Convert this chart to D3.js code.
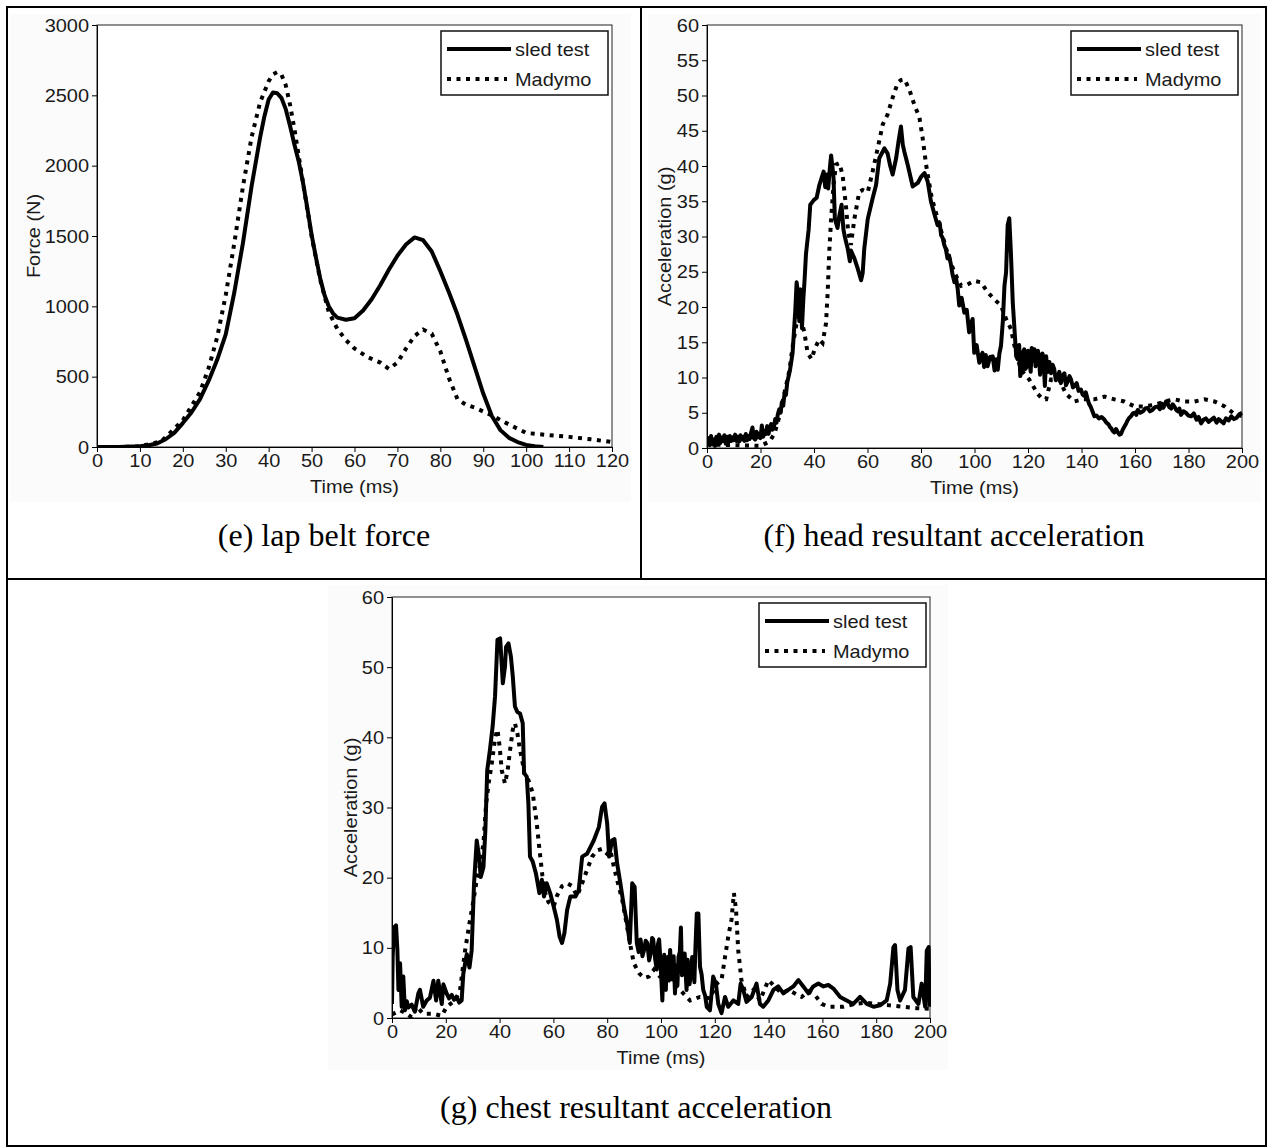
<!DOCTYPE html>
<html>
<head>
<meta charset="utf-8">
<script src="https://cdn.jsdelivr.net/npm/d3@7"></script>
<style>
  html, body { margin: 0; padding: 0; background: #fff; }
  svg { display: block; }
</style>
</head>
<body>
<svg id="fig" width="1270" height="1148"></svg>
<script>
// ---------- data ----------
const seriesNames = ["sled test", "Madymo"];

// (e) lap belt force: [time ms, force N]
const lapSled = [[0,0],[5,0],[10,5],[12,12],[14,25],[16,55],[18,100],[20,170],[22,245],[24,340],
  [26,470],[28,620],[30,800],[32,1100],[34,1450],[36,1850],[38,2200],[39,2350],[40,2470],[41,2520],
  [42,2515],[43,2480],[44,2400],[45,2280],[46,2150],[47,2030],[48,1880],[49,1700],[50,1510],[51,1350],
  [52,1200],[53,1080],[54,1000],[55,950],[56,920],[58,905],[60,915],[62,970],[64,1050],[66,1150],
  [68,1260],[70,1360],[72,1440],[74,1490],[76,1470],[78,1390],[80,1250],[82,1100],[84,940],[86,760],
  [88,570],[90,380],[92,220],[94,120],[96,65],[98,35],[100,15],[102,5],[104,0]];
const lapMadymo = [[0,0],[5,0],[10,5],[15,40],[20,190],[24,390],[26,560],[28,780],[30,1080],[32,1450],
  [34,1850],[36,2200],[38,2450],[40,2600],[41,2650],[42,2665],[43,2645],[44,2570],[45,2430],[46,2260],
  [47,2070],[48,1880],[50,1500],[52,1190],[54,960],[56,840],[58,760],[60,700],[63,640],[66,600],
  [68,555],[70,600],[72,700],[74,790],[76,835],[78,805],[80,680],[82,490],[84,340],[86,300],
  [88,280],[92,225],[96,160],[100,100],[105,85],[110,72],[115,55],[120,35]];

// (f) head resultant acceleration: [time ms, acceleration g]
const headSled = [[0,0.6],[0.5,1.4],[1,0.4],[1.5,1.7],[2,0.5],[2.5,1.2],[3,0.3],[3.5,1.6],[4,0.8],[4.5,1.9],
  [5,0.7],[5.5,1.5],[6,1.0],[6.5,1.8],[7,0.6],[7.5,1.6],[8,0.9],[8.5,1.7],[9,1.0],[9.5,1.5],
  [10,1.1],[10.5,1.9],[11,1.0],[11.5,1.6],[12,0.9],[12.5,1.8],[13,1.2],[13.5,1.6],[14,1.0],[14.5,2.0],
  [15,1.1],[15.5,1.7],[16,1.3],[16.5,2.2],[17,2.9],[17.5,1.4],[18,1.2],[18.5,2.3],[19,1.5],[19.5,2.0],
  [20,1.4],[20.5,3.2],[21,1.6],[21.5,2.4],[22,2.0],[22.5,3.1],[23,2.0],[23.5,2.9],[24,3.4],[24.5,2.6],
  [25,3.0],[25.5,4.1],[26,3.6],[26.5,4.8],[27,5.5],[27.5,5.0],[28,6.5],[28.5,6.0],[29,7.8],[29.5,7.5],
  [30,9.3],[31,11.0],[32,13.5],[33,19.5],[33.5,23.5],[34,22],[34.5,18],[35,22.5],[35.5,17],
  [36,21],[36.5,24],[37,27.5],[38,31],[38.6,34.5],[40,35.2],[41,35.5],[42,37.3],[43,38.5],[43.6,39.2],
  [44.2,37],[44.8,38.8],[45.3,36.8],[46,40],[46.4,41.5],[47,39.5],[47.3,38.3],[47.8,32.5],[48.8,31.2],[49.5,33],
  [50.3,34.5],[51,31],[51.5,30],[52.6,28.3],[53.4,26.5],[53.8,28],[55.1,26.9],[56.3,25.5],[57.6,23.8],[58.2,24.8],
  [58.8,28.3],[60.1,32.5],[61.9,35.4],[63.2,37.3],[64.4,41.1],[66.3,42.5],[67.5,41.8],[68.5,40],[69.4,38.8],[70.7,41.1],
  [71.6,43.5],[72.5,45.6],[73.2,43],[73.8,42],[75,40.2],[76.9,37.1],[78.8,37.6],[80.1,38.5],[81.3,39],[82.5,37.8],
  [83.7,35],[85,33.2],[86.2,31.6],[87,31.9],[87.5,30.2],[88.1,29.8],[88.7,28.8],[89.3,28.2],[89.9,26.9],[90.5,27.3],
  [91.2,26],[91.8,24.6],[92.5,23.5],[93.1,24.1],[93.7,22.6],[94.3,20.2],[95.2,21.3],
  [96.2,19.2],[97.1,19.6],[98.0,16.4],[98.6,17.5],[99.3,18.3],[99.9,13.5],[100.8,14.6],[101.8,12.1],[102.4,13],[103.0,13.5],
  [103.6,11.5],[104.2,13.2],[104.9,11.6],[105.8,12.9],[106.8,13.0],[107.5,11.0],[108.1,12.6],[108.7,11.1],[109.3,13.4],[109.9,14.5],
  [110.6,18],[111.2,23],[111.8,24.9],[112.4,31.6],[113.0,32.6],[113.6,27.8],[114.3,20.7],[115.1,15.9],[115.6,13],[116.1,12.6],
  [116.7,14.6],[117.1,10.2],[117.4,10.6],[118.0,13.5],[118.6,14.0],[119.0,11.2],[119.5,11.5],[120.0,13.8],[120.5,12.6],[121.0,10.8],
  [121.4,14.2],[121.9,12.4],[122.4,14.0],[122.8,11.6],[123.2,12],[123.7,13.8],[124.1,13],[124.5,10.4],[124.9,11.6],[125.4,13.4],
  [125.8,12.8],[126.3,8.8],[126.8,13.0],[127.1,11.4],[127.5,10.8],[128.0,12.2],[128.6,10.6],[129.2,11.8],[129.8,11.2],[130.4,9.6],
  [131.1,10.1],[131.7,10.8],[132.3,9.2],[133.0,10.3],[133.6,10.6],[134.2,8.9],[134.8,9.4],[135.5,10.2],[136.1,9.7],[136.8,8.6],
  [137.5,8.8],[138.2,9.2],[138.9,8.1],[139.8,8.3],[140.4,7.6],[141,7.4],[141.6,7.9],[142.3,6.9],[142.9,6.2],[143.5,5.8],
  [144.2,5.1],[144.8,4.5],[145.6,4.6],[146.5,4.2],[147.5,4.4],[148.6,4.0],[149.3,3.6],[150,3.4],[150.6,3.0],
  [151.1,2.8],[151.7,2.4],[152.3,2.2],[152.9,2.7],[153.5,2.3],[154.2,1.9],[154.8,2.0],[155.4,2.6],[156.0,3.0],[156.6,3.4],
  [157.2,3.9],[157.9,4.3],[158.5,4.5],[159.2,4.9],[160,5.0],[160.5,4.7],[161.0,5.4],[162,5.0],[163,5.2],[163.8,5.6],
  [164.7,5.7],[165.6,5.2],[166.5,5.4],[167.5,5.8],[168.5,5.9],[169.3,5.5],[170,6.3],[170.5,5.7],[171,6.0],[171.6,6.6],
  [172.2,6.4],[172.8,5.8],[173.5,5.6],[174.1,6.2],[174.7,5.9],[175.4,5.4],[176,5.2],[176.6,5.6],[177.2,4.7],[178.1,5.2],
  [179,5.0],[180,4.6],[181.0,4.5],[182,4.9],[183,4.0],[183.8,4.4],[184.7,3.5],[185.6,4.0],[186.5,4.2],[187.5,3.7],
  [188.5,4.0],[189.5,4.3],[190.5,3.6],[191.3,4.1],[192.2,3.8],[193.1,3.5],[194,4.2],[195,3.9],[196.0,4.5],[197,4.1],
  [198,4.3],[199,4.8],[200,5.0]];
const headMadymo = [[0,0.5],[10,0.4],[20,0.3],[23.3,0.9],[25.2,2.0],[27.0,4.4],[28.9,7.7],[30.8,11.0],[32.0,14.4],[33.3,17.3],
  [34.5,19.0],[35.5,17.8],[36.4,16.4],[37.6,13.5],[39.1,12.6],[40.4,14.2],[42.0,15.4],[43.2,14.9],[44.5,17.7],[45.1,22.0],
  [45.7,27.8],[46.4,32.5],[47.3,37.3],[48.2,40.2],[49.5,40.4],[50.7,38.7],[51.9,34.5],[52.8,30.6],[53.8,28.8],[55.1,32.5],
  [56.9,36.3],[58.2,36.6],[60.1,36.3],[61.9,39.2],[63.8,42.5],[65.7,45.9],[67.5,47.3],[69.4,49.7],[71.3,51.8],[72.5,52.2],
  [73.8,52.3],[75.6,50.9],[77.5,48.7],[79.4,46.9],[80.6,44.0],[81.9,40.2],[82.5,38.8],[84,35.5],[87,31.5],[90,27.5],
  [92.5,24.9],[95,23.0],[97.4,23.2],[99.9,23.7],[102.4,23.5],[104.9,22.1],[107.4,21.1],[109.9,20.2],[111.8,18.3],[113.6,16.9],
  [115.5,13.5],[117.4,11.1],[120.5,9.7],[123.6,7.7],[125.5,6.9],[126.8,6.9],[128.6,9.7],[131.7,9.7],[134.2,7.7],[137.3,6.6],
  [140.4,6.9],[144.8,6.9],[148.6,7.3],[152.3,6.9],[156.0,6.6],[159.8,5.9],[163.5,5.9],[167.2,6.1],[171.0,6.6],[174.7,6.9],
  [178.5,6.6],[182.2,6.6],[186.0,6.9],[189.7,6.6],[193.5,5.9],[196.6,5.0],[200,4.5]];

// (g) chest resultant acceleration: [time ms, acceleration g]
const chestSled = [[0,2],[0.25,8.7],[0.74,12.9],[1.5,13.2],[2.0,9.7],[2.4,4.0],[3.0,7.8],[3.6,1.6],[4.2,5.9],[4.8,1.1],
  [5.5,2.4],[6.1,1.5],[7.3,1.9],[8.5,0.9],[9.8,3.5],[10.4,4.0],[11.6,1.6],[12.9,2.5],[14.1,2.9],[15.4,5.3],
  [16.4,2.5],[17.2,5.3],[18.5,2.0],[19.1,4.8],[20.3,3.5],[21.2,2.8],[22.2,3.3],[23.1,2.6],[24.0,3.0],[25.0,2.2],[25.9,2.5],[26.5,6.3],[27.8,9.1],
  [28.8,7.2],[29.6,9.6],[30.5,19.2],[31.5,25.3],[32.4,22.9],[33.0,20.1],[34.0,21.5],[34.7,26.7],[35.4,35.3],[36.4,38.2],
  [37.4,41.5],[38.3,45.8],[39.2,53.9],[40.2,54.1],[41.2,47.7],[42.0,50.1],[42.4,52.9],[43.3,53.4],[44.2,51.5],[44.9,48.7],
  [45.7,44.4],[46.6,43.6],[47.6,43.4],[48.6,42],[49.1,34.9],[50.1,34.4],[50.7,30.6],[51.3,23],[52.3,22.3],[53.5,20.6],
  [54.8,17.8],[55.7,19.7],[56.5,17.3],[57.5,19.2],[58.8,17.8],[60.1,15.9],[61.3,14],[62.3,11.6],[63.2,10.7],[64.1,12.1],
  [65.1,15.4],[66.3,17.3],[68.2,17.3],[69.4,18.2],[70.7,23],[72.5,23.4],[75.0,25.3],[76.9,27.2],[78.1,30.1],[79.0,30.6],
  [80.0,27.7],[80.7,23],[81.8,25.3],[82.7,25.5],[83.7,22],[84.9,19.2],[86.2,15.9],[87.4,13.5],[88.4,10.7],[89.3,19.2],
  [90.2,18.7],[91.0,10.7],[91.7,9.4],[92.4,11.2],[93.1,8.8],[93.7,9.7],[94.3,11.0],[94.9,10.7],[95.6,8.2],[96.2,9.3],[96.7,11.4],[97.1,11.2],
  [97.8,8.5],[98.4,6.9],[98.9,10.6],[99.3,11.2],[99.9,7.4],[100.5,2.5],
  [100.9,7.8],[101.2,9.0],[101.5,5.2],[101.8,4.0],[102.1,8.1],[102.5,8.7],[102.9,5.6],[103.4,9.7],[103.8,6.3],[104.2,5.5],[104.7,8.8],[105.2,3.5],
  [105.5,6.2],[105.8,7.5],[106.1,4.6],[106.5,8.7],[107.0,9.4],[107.4,12.9],[107.8,6.1],[108.3,7.3],[108.8,9.2],
  [109.5,4],[109.9,8.3],[110.2,7.0],[110.6,4.8],[111.1,6.3],[111.6,8.7],[112.0,7.3],[112.4,5.1],[112.8,10],[113.3,14.9],[113.9,14.9],[114.5,7.3],[115.1,6.2],[115.7,4.0],[116.4,3.2],[117.0,1.6],
  [118.2,1.1],[119.4,5.9],[120.4,4.9],[121.3,2.0],[122.5,0.7],[123.8,3.0],[125.0,1.6],[126.9,2.5],[128.7,2.0],[129.6,4.9],
  [130.6,4.0],[131.8,2.3],[133.7,3.0],[135.5,4.9],[136.8,2.0],[138.0,1.6],[139.9,2.5],[141.8,4.0],[143.6,4.5],[145.5,3.5],
  [147.3,4.0],[149.2,4.5],[151.1,5.4],[152.9,4.5],[154.8,3.5],[156.6,4.5],[158.5,4.9],[160.4,4.5],[162.2,4.7],[164.1,4.2],
  [166.6,3.0],[169.0,2.5],[171.5,2.0],[174.0,3.0],[176.5,2.0],[179.0,1.6],[181.4,1.8],[183.9,2.5],[185.2,4.9],[186.4,10.1],
  [187.0,10.4],[187.9,4.0],[188.9,2.5],[190.7,4],[192.0,9.9],[192.8,10.1],[193.8,3.0],[195.7,2.0],[196.9,4.9],[198.2,1.6],
  [198.8,9.6],[199.5,10.1],[199.8,1.6]];
const chestMadymo = [[0,0.5],[3,1.1],[5.5,0.6],[7.3,0.1],[9.2,1.6],[11.6,0.6],[15.4,0.6],[18.5,0.3],[20.3,1.6],[23.4,2.5],
  [25.3,4.0],[27.2,9.7],[28.8,13.5],[30.3,16.8],[31.5,19.7],[32.8,22],[34.0,24.9],[35.0,30.6],[35.9,33.4],[37.1,36.3],
  [38.4,40.1],[39.2,41.1],[40.0,38.7],[40.8,35.3],[42.0,33.4],[43.0,35.3],[43.9,38.2],[44.9,41.1],[45.7,42.0],[46.6,40.6],
  [47.6,38.2],[48.6,36.3],[49.4,34.4],[50.7,33.9],[52.3,32.1],[53.8,27.8],[54.8,24.1],[55.9,20.3],[56.9,17.9],[58.2,16.5],
  [60.1,15.9],[61.3,17.4],[63.2,18.8],[65.1,19.2],[66.9,18.8],[68.8,17.4],[70.7,19.2],[72.5,21.1],[74.4,23],[76.3,23.9],
  [78.1,24.1],[80.0,23.4],[81.2,23.9],[82.5,21.5],[84.0,19.2],[85.6,16.8],[87.4,13.0],[88.7,10.2],[89.9,7.8],[91.8,6.4],
  [93.7,5.7],[95.5,5.9],[97.4,6.9],[99.6,5.9],[103.4,5.3],[107.1,4.0],[110.8,2.5],[114.5,3.0],[118.2,2.8],[120.7,4.9],
  [122.5,5.4],[123.8,8.7],[125.0,11.6],[126.2,14.0],[127.1,17.8],[127.9,15.4],[128.7,9.7],[129.9,5.4],[131.8,3.0],[134.3,4.0],
  [136.8,2.5],[139.9,5.4],[142.3,4.5],[144.8,3.5],[147.3,4.0],[149.8,3.5],[152.3,3.0],[154.8,3.8],[157.2,3.3],[159.7,2.0],
  [162.2,1.6],[165.3,1.6],[167.8,1.6],[172,2.0],[176,2.2],[180,2.0],[185,1.8],[190,1.6],[195,1.4],[200,1.3]];

// tick values
const lapTimeTicks = [0,10,20,30,40,50,60,70,80,90,100,110,120];
const lapForceTicks = [0,500,1000,1500,2000,2500,3000];
const accTimeTicks = [0,20,40,60,80,100,120,140,160,180,200];
const headAccTicks = [0,5,10,15,20,25,30,35,40,45,50,55,60];
const chestAccTicks = [0,10,20,30,40,50,60];

// ---------- layout ----------
const svg = d3.select("#fig");
const SANS = '"Liberation Sans", Arial, sans-serif';
const SERIF = '"Liberation Serif", "Times New Roman", serif';
const FS = 19;        // chart lettering size
const WIDEN = 1.05;   // slight horizontal widening of the chart lettering

function widen(sel) {
  sel.each(function () {
    const t = d3.select(this);
    const x = +t.attr("x") || 0, y = +t.attr("y") || 0;
    t.attr("transform", `translate(${x},${y}) scale(${WIDEN},1) translate(${-x},${-y})`);
  });
}

const panels = [
  { l: 97, r: 612, t: 25, b: 447, xDomain: [0, 120], yDomain: [0, 3000],
    xTicks: lapTimeTicks, yTicks: lapForceTicks, yTitle: "Force (N)", yTitleX: 33,
    sled: lapSled, mad: lapMadymo, bg: [10, 14, 621, 488],
    caption: "(e) lap belt force", capX: 324, capY: 546 },
  { l: 707, r: 1242, t: 25, b: 448, xDomain: [0, 200], yDomain: [0, 60],
    xTicks: accTimeTicks, yTicks: headAccTicks, yTitle: "Acceleration (g)", yTitleX: 664,
    sled: headSled, mad: headMadymo, bg: [648, 14, 613, 488],
    caption: "(f) head resultant acceleration", capX: 954, capY: 546 },
  { l: 392, r: 930, t: 597, b: 1018, xDomain: [0, 200], yDomain: [0, 60],
    xTicks: accTimeTicks, yTicks: chestAccTicks, yTitle: "Acceleration (g)", yTitleX: 350,
    sled: chestSled, mad: chestMadymo, bg: [328, 585, 620, 485],
    caption: "(g) chest resultant acceleration", capX: 636, capY: 1118 }
];

panels.forEach((p, i) => {
  const g = svg.append("g");
  const x = d3.scaleLinear().domain(p.xDomain).range([p.l, p.r]);
  const y = d3.scaleLinear().domain(p.yDomain).range([p.b, p.t]);

  // chart area tint and white plot area
  g.append("rect").attr("x", p.bg[0]).attr("y", p.bg[1]).attr("width", p.bg[2]).attr("height", p.bg[3])
    .attr("fill", "#fbfbfb");
  g.append("rect").attr("x", p.l).attr("y", p.t).attr("width", p.r - p.l).attr("height", p.b - p.t)
    .attr("fill", "#fff").attr("stroke", "#222").attr("stroke-width", 1);

  const clipId = "plotclip" + i;
  svg.append("clipPath").attr("id", clipId).append("rect")
    .attr("x", p.l).attr("y", p.t - 2).attr("width", p.r - p.l + 1).attr("height", p.b - p.t + 2);

  const line = d3.line().x(d => x(d[0])).y(d => y(d[1]));
  const lines = g.append("g").attr("clip-path", `url(#${clipId})`);
  lines.append("path").datum(p.sled).attr("d", line).attr("fill", "none")
    .attr("stroke", "#000").attr("stroke-width", 4).attr("stroke-linejoin", "round");
  lines.append("path").datum(p.mad).attr("d", line).attr("fill", "none")
    .attr("stroke", "#000").attr("stroke-width", 4).attr("stroke-dasharray", "4 5.5");

  // axes
  const xAxis = d3.axisBottom(x).tickValues(p.xTicks).tickSize(5).tickSizeOuter(0).tickPadding(2)
    .tickFormat(d3.format("d"));
  const yAxis = d3.axisLeft(y).tickValues(p.yTicks).tickSize(5).tickSizeOuter(0).tickPadding(3)
    .tickFormat(d3.format("d"));
  const styleAxis = s => {
    s.attr("font-family", SANS).attr("font-size", FS);
    s.select(".domain").attr("stroke", "#000");
    s.selectAll(".tick line").attr("stroke", "#000");
    s.selectAll(".tick text").attr("fill", "#1a1a1a").call(widen);
  };
  g.append("g").attr("transform", `translate(0,${p.b})`).call(xAxis).call(styleAxis);
  g.append("g").attr("transform", `translate(${p.l},0)`).call(yAxis).call(styleAxis);

  // axis titles
  g.append("text").attr("x", (p.l + p.r) / 2).attr("y", p.b + 39).attr("dy", "0.35em")
    .attr("text-anchor", "middle").attr("font-family", SANS).attr("font-size", FS).attr("fill", "#1a1a1a")
    .text("Time (ms)").call(widen);
  g.append("text")
    .attr("transform", `translate(${p.yTitleX},${(p.t + p.b) / 2}) rotate(-90) scale(${WIDEN},1)`)
    .attr("dy", "0.35em").attr("text-anchor", "middle").attr("font-family", SANS).attr("font-size", FS)
    .attr("fill", "#1a1a1a").text(p.yTitle);

  // legend
  const bw = 167, bh = 64, bx = p.r - 4 - bw, by = p.t + 6;
  const lg = g.append("g");
  lg.append("rect").attr("x", bx).attr("y", by).attr("width", bw).attr("height", bh)
    .attr("fill", "#fff").attr("stroke", "#111").attr("stroke-width", 1.5);
  const rows = [{ name: seriesNames[0], dash: null, w: 4, x2: 70 },
                { name: seriesNames[1], dash: "4 5.5", w: 4, x2: 66 }];
  rows.forEach((r, k) => {
    const ly = by + 18 + k * 30;
    const ln = lg.append("line").attr("x1", bx + 6).attr("x2", bx + r.x2).attr("y1", ly).attr("y2", ly)
      .attr("stroke", "#000").attr("stroke-width", r.w);
    if (r.dash) ln.attr("stroke-dasharray", r.dash);
    lg.append("text").attr("x", bx + 74).attr("y", ly).attr("dy", "0.35em")
      .attr("font-family", SANS).attr("font-size", FS).attr("fill", "#1a1a1a").text(r.name).call(widen);
  });

  // caption
  svg.append("text").attr("x", p.capX).attr("y", p.capY).attr("text-anchor", "middle")
    .attr("font-family", SERIF).attr("font-size", 32).attr("fill", "#000").text(p.caption);
});

// table rules
const rules = [
  [7, 7, 1266, 7], [7, 579, 1266, 579], [7, 1146, 1266, 1146],
  [7, 7, 7, 1146], [1266, 7, 1266, 1146], [641, 7, 641, 579]
];
svg.append("g").selectAll("line").data(rules).join("line")
  .attr("x1", d => d[0]).attr("y1", d => d[1]).attr("x2", d => d[2]).attr("y2", d => d[3])
  .attr("stroke", "#000").attr("stroke-width", 2).attr("stroke-linecap", "square");
</script>
</body>
</html>
